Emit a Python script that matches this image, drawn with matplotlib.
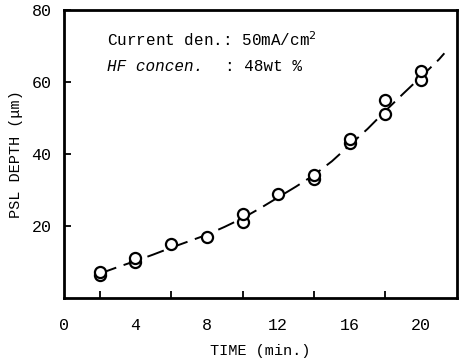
import matplotlib
matplotlib.use('Agg')
import matplotlib.pyplot as plt
import numpy as np

# 측정값 (시간, 깊이)
time = [2, 2, 4, 4, 6, 8, 10, 10, 12, 14, 14, 16, 16, 18, 18, 20, 20]
depth = [6.5, 7.3, 10, 11, 15, 17, 21, 23.3, 29, 33.2, 34.2, 43, 44.3, 51, 55, 60.7, 63]

# 점선 곡선
fit_t = [2, 3, 4, 5, 6, 7, 8, 9, 10, 11, 12, 13, 14, 15, 16, 17, 18, 19, 20, 21, 21.3]
fit_y = [6.8, 8.6, 10.3, 12.1, 14, 15.8, 17.6, 19.8, 22.2, 25, 28, 31, 34.2, 38,
         42.5, 47, 52, 56.8, 61.5, 66.3, 68]

xticks = [0, 4, 8, 12, 16, 20]
yticks = [20, 40, 60, 80]

mono = 'Liberation Mono'

fig = plt.figure(figsize=(4.61, 3.6), dpi=100)
ax = fig.add_axes([0.139, 0.172, 0.852, 0.80])

ax.plot(fit_t, fit_y, color='black', lw=1.4, dashes=(9, 4))
ax.plot(time, depth, 'o', mfc='white', mec='black', ms=8, mew=1.6, ls='none')

ax.set_xlim(0, 22)
ax.set_ylim(0, 80)
ax.set_xticks(range(2, 22, 2), minor=True)
ax.set_xticks(xticks)
ax.set_yticks(yticks)
ax.tick_params(which='both', direction='in', length=5, width=1.3)
ax.tick_params(axis='x', which='major', length=0, pad=14)
ax.tick_params(axis='y', pad=9)
for lab in ax.get_xticklabels() + ax.get_yticklabels():
    lab.set_family(mono)
    lab.set_fontsize(12)

for s in ax.spines.values():
    s.set_linewidth(2)

ax.set_xlabel('TIME (min.)', family=mono, fontsize=11, labelpad=8)
ax.set_ylabel('PSL DEPTH (\u03bcm)', family=mono, fontsize=11, labelpad=6)

ax.text(0.11, 0.875, 'Current den.: 50mA/cm$^2$', transform=ax.transAxes,
        family=mono, fontsize=11.5)
ax.text(0.11, 0.79, 'HF concen.', transform=ax.transAxes,
        family=mono, fontsize=11.5, style='italic')
ax.text(0.41, 0.79, ': 48wt %', transform=ax.transAxes,
        family=mono, fontsize=11.5)

plt.savefig('out.png', dpi=100)
